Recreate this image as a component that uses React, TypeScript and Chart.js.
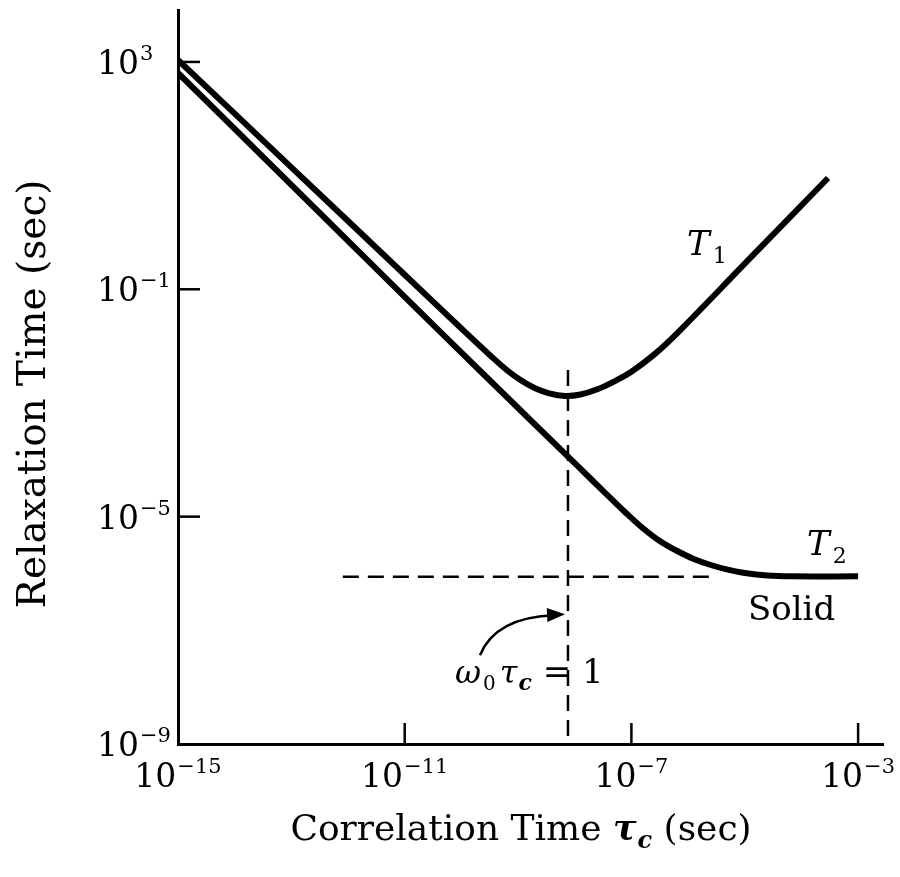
import React, { useEffect, useRef } from "react";
import { Chart, registerables } from "chart.js";
Chart.register(...registerables);

// ---- data (log-log axes) ----
const t1Tau = [1e-15, 1e-13, 1e-11, 1e-10, 3.16e-10, 6.31e-10, 1.12e-9, 2.0e-9, 3.55e-9, 6.76e-9, 1.26e-8, 2.51e-8, 5.01e-8, 1e-7, 2.51e-7, 7.08e-7, 1e-5, 2.95e-4];
const t1Values = [1080, 14.0, 0.18, 2.04e-2, 7.0e-3, 3.8e-3, 2.51e-3, 1.82e-3, 1.48e-3, 1.33e-3, 1.41e-3, 1.74e-3, 2.4e-3, 3.55e-3, 7.08e-3, 1.86e-2, 0.282, 9.08];
const t2Tau = [1e-15, 1e-13, 1e-11, 3.16e-10, 1e-8, 3.16e-8, 7.94e-8, 1.58e-7, 3.16e-7, 6.31e-7, 1.26e-6, 2.51e-6, 5.01e-6, 1e-5, 2.51e-5, 6.31e-5, 1e-3];
const t2Values = [640, 6.85, 7.35e-2, 2.51e-3, 8.71e-5, 2.85e-5, 1.17e-5, 6.31e-6, 3.72e-6, 2.51e-6, 1.8e-6, 1.41e-6, 1.17e-6, 1.02e-6, 9.2e-7, 8.9e-7, 8.9e-7];

const omegaTau = [7.6e-9, 7.6e-9];
const omegaT = [3.8e-3, 1e-9];
const solidTau = [8.1e-13, 2.65e-6];
const solidT = [8.8e-7, 8.8e-7];

const xTickValues = [1e-15, 1e-11, 1e-7, 1e-3];
const xTickExps = ["\u221215", "\u221211", "\u22127", "\u22123"];
const yTickValues = [1e-9, 1e-5, 1e-1, 1e3];
const yTickExps = ["\u22129", "\u22125", "\u22121", "3"];

const xMin = 1e-15;
const xMax = 2.75e-3;
const yMin = 1e-9;
const yMax = 8.2e3;

const FONT = "'DejaVu Serif', serif";

type Seg = { text: string; font: string; dy?: number; dx?: number };

function richWidth(ctx: CanvasRenderingContext2D, segs: Seg[]) {
  let total = 0;
  segs.forEach((s) => {
    ctx.font = s.font;
    total += ctx.measureText(s.text).width + (s.dx || 0);
  });
  return total;
}

function drawRich(ctx: CanvasRenderingContext2D, x: number, y: number, segs: Seg[], align: "left" | "center" = "left") {
  const total = richWidth(ctx, segs);
  let cx = align === "center" ? x - total / 2 : x;
  ctx.textBaseline = "alphabetic";
  ctx.textAlign = "left";
  segs.forEach((s) => {
    ctx.font = s.font;
    cx += s.dx || 0;
    ctx.fillText(s.text, cx, y + (s.dy || 0));
    cx += ctx.measureText(s.text).width;
  });
}

const powLabel = (exp: string): Seg[] => [
  { text: "10", font: `33px ${FONT}` },
  { text: exp, font: `21px ${FONT}`, dy: -14, dx: 1 },
];

const overlay = {
  id: "overlay",
  afterDraw(chart: any) {
    const { ctx, chartArea, scales } = chart;
    const xs = scales.x;
    const ys = scales.y;
    const X = (v: number) => xs.getPixelForValue(v);
    const Y = (v: number) => ys.getPixelForValue(v);
    ctx.save();
    ctx.strokeStyle = "#000";
    ctx.fillStyle = "#000";
    ctx.lineWidth = 2.5;
    // inward tick marks + tick labels
    xs.ticks.forEach((t: any, i: number) => {
      const px = X(t.value);
      if (t.value > xs.min * 1.0001) {
        ctx.beginPath();
        ctx.moveTo(px, chartArea.bottom);
        ctx.lineTo(px, chartArea.bottom - 21);
        ctx.stroke();
      }
      drawRich(ctx, px, chartArea.bottom + 43, powLabel(xTickExps[i]), "center");
    });
    ys.ticks.forEach((t: any, i: number) => {
      const py = Y(t.value);
      if (t.value > ys.min * 1.0001) {
        ctx.beginPath();
        ctx.moveTo(chartArea.left, py);
        ctx.lineTo(chartArea.left + 22, py);
        ctx.stroke();
      }
      drawRich(ctx, chartArea.left - 81, py + 12, powLabel(yTickExps[i]));
    });

    // curve labels
    drawRich(ctx, X(9.6e-7), Y(0.4), [
      { text: "T", font: `italic 34px ${FONT}` },
      { text: "1", font: `22px ${FONT}`, dy: 8, dx: 3 },
    ]);
    drawRich(ctx, X(1.26e-4), Y(2.09e-6), [
      { text: "T", font: `italic 34px ${FONT}` },
      { text: "2", font: `22px ${FONT}`, dy: 8, dx: 3 },
    ]);
    drawRich(ctx, X(1.14e-5), Y(1.5e-7), [{ text: "Solid", font: `34px ${FONT}` }]);
    drawRich(ctx, X(7.7e-11), Y(1.17e-8), [
      { text: "\u03C9", font: `italic 32px ${FONT}` },
      { text: "0", font: `20px ${FONT}`, dy: 7, dx: 2 },
      { text: "\u03C4", font: `italic 32px ${FONT}`, dx: 4 },
      { text: "c", font: `italic bold 22px ${FONT}`, dy: 7, dx: 1 },
      { text: " = 1", font: `34px ${FONT}` },
    ]);

    // curved arrow
    const sx = X(2.13e-10), sy = Y(3.63e-8);
    const cxp = X(4.0e-10), cyp = Y(1.7e-7);
    const ex = X(6.75e-9), ey = Y(1.91e-7);
    ctx.lineWidth = 2.5;
    ctx.beginPath();
    ctx.moveTo(sx, sy);
    ctx.quadraticCurveTo(cxp, cyp, ex - 10, ey + 1);
    ctx.stroke();
    const ang = Math.atan2(ey - cyp, ex - cxp);
    ctx.beginPath();
    ctx.moveTo(ex, ey);
    ctx.lineTo(ex - 18 * Math.cos(ang) + 7 * Math.sin(ang), ey - 18 * Math.sin(ang) - 7 * Math.cos(ang));
    ctx.lineTo(ex - 18 * Math.cos(ang) - 7 * Math.sin(ang), ey - 18 * Math.sin(ang) + 7 * Math.cos(ang));
    ctx.closePath();
    ctx.fill();

    // axis titles
    drawRich(ctx, 521, 840, [
      { text: "Correlation Time ", font: `36px ${FONT}` },
      { text: "\u03C4", font: `italic bold 35px ${FONT}` },
      { text: "c", font: `italic bold 24px ${FONT}`, dy: 8, dx: 1 },
      { text: " (sec)", font: `36px ${FONT}` },
    ], "center");
    ctx.save();
    ctx.translate(45, 394);
    ctx.rotate(-Math.PI / 2);
    drawRich(ctx, 0, 0, [{ text: "Relaxation Time (sec)", font: `39px ${FONT}` }], "center");
    ctx.restore();
    ctx.restore();
  },
};

export default function App() {
  const ref = useRef<HTMLCanvasElement | null>(null);
  useEffect(() => {
    if (!ref.current) return;
    const line = (tau: number[], vals: number[]) => tau.map((t, i) => ({ x: t, y: vals[i] }));
    const chart = new Chart(ref.current, {
      type: "line",
      data: {
        datasets: [
          {
            label: "T1",
            data: line(t1Tau, t1Values),
            borderColor: "#000",
            borderWidth: 6,
            pointRadius: 0,
            tension: 0.4,
            fill: false,
          },
          {
            label: "T2",
            data: line(t2Tau, t2Values),
            borderColor: "#000",
            borderWidth: 6,
            pointRadius: 0,
            tension: 0.4,
            fill: false,
          },
          {
            label: "omega0 tau_c = 1",
            data: line(omegaTau, omegaT),
            borderColor: "#000",
            borderWidth: 2.5,
            borderDash: [16, 9],
            pointRadius: 0,
            tension: 0,
            fill: false,
          },
          {
            label: "Solid",
            data: line(solidTau, solidT),
            borderColor: "#000",
            borderWidth: 2.5,
            borderDash: [16, 9],
            pointRadius: 0,
            tension: 0,
            fill: false,
          },
        ],
      },
      options: {
        animation: false,
        responsive: false,
        maintainAspectRatio: false,
        layout: { padding: { top: 10, right: 17, left: 0, bottom: 0 } },
        plugins: { legend: { display: false }, tooltip: { enabled: false }, title: { display: false } },
        scales: {
          x: {
            type: "logarithmic",
            min: xMin,
            max: xMax,
            afterBuildTicks: (s: any) => {
              s.ticks = xTickValues.map((v) => ({ value: v }));
            },
            afterFit: (s: any) => {
              s.height = 133;
              s.paddingLeft = 0;
              s.paddingRight = 0;
            },
            ticks: { display: false, autoSkip: false },
            grid: { display: false, drawTicks: false },
            border: { display: true, color: "#000", width: 3 },
          },
          y: {
            type: "logarithmic",
            min: yMin,
            max: yMax,
            afterBuildTicks: (s: any) => {
              s.ticks = yTickValues.map((v) => ({ value: v }));
            },
            afterFit: (s: any) => {
              s.width = 178;
              s.paddingTop = 0;
              s.paddingBottom = 0;
            },
            ticks: { display: false, autoSkip: false },
            grid: { display: false, drawTicks: false },
            border: { display: true, color: "#000", width: 3 },
          },
        },
      },
      plugins: [overlay],
    } as any);
    return () => chart.destroy();
  }, []);
  return (
    <div style={{ position: "absolute", left: 0, top: 0, width: 900, height: 877, background: "#fff" }}>
      <canvas ref={ref} width={900} height={877} style={{ display: "block" }} />
    </div>
  );
}
